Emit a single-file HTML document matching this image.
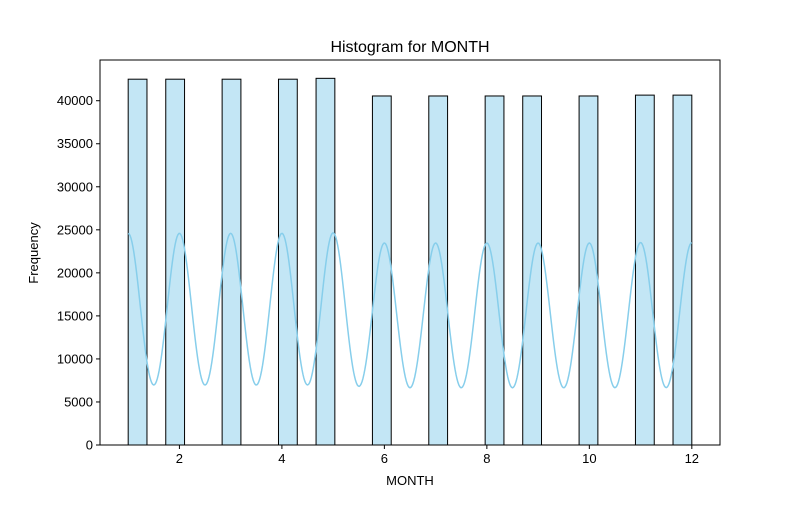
<!DOCTYPE html>
<html><head><meta charset="utf-8"><style>
body{margin:0;background:#fff;}
svg text{font-family:"Liberation Sans","DejaVu Sans",sans-serif;}
</style></head><body>
<svg id="chart" width="800" height="500" xmlns="http://www.w3.org/2000/svg"></svg>
<script>
const months = [1,2,3,4,5,6,7,8,9,10,11,12];
const counts = [42500,42500,42500,42500,42600,40550,40550,40550,40550,40550,40650,40650];
const xTicks = [2,4,6,8,10,12];
const yTicks = [0,5000,10000,15000,20000,25000,30000,35000,40000];
const nBins = 30;
const bandwidth = 0.253;

const svg = document.getElementById('chart');
const NS = 'http://www.w3.org/2000/svg';
const L=100,R=720,T=60,B=445;
const xmin=0.45,xmax=12.55,ymax=44730;
const xs = v => L + (v-xmin)/(xmax-xmin)*(R-L);
const ys = v => B - v/ymax*(B-T);
function mk(tag, attrs){const e=document.createElementNS(NS,tag);for(const k in attrs)e.setAttribute(k,attrs[k]);svg.appendChild(e);return e;}

const bw = (12-1)/nBins;
const binCounts = new Array(nBins).fill(0);
months.forEach((m,i)=>{let b=Math.floor((m-1)/bw+1e-9);if(b>=nBins)b=nBins-1;binCounts[b]+=counts[i];});
binCounts.forEach((c,b)=>{
  if(!c) return;
  const x0=xs(1+b*bw), x1=xs(1+(b+1)*bw);
  const r=mk('rect',{x:x0,y:ys(c),width:x1-x0,height:ys(0)-ys(c),fill:'#c3e6f5',stroke:'#000','stroke-width':1});
  
  
});

const N = counts.reduce((a,b)=>a+b,0);
let d='';
for(let i=0;i<=600;i++){
  const x=1+11*i/600;
  let s=0;
  months.forEach((m,j)=>{const z=(x-m)/bandwidth;s+=counts[j]*Math.exp(-0.5*z*z);});
  const dens=s/(N*bandwidth*Math.sqrt(2*Math.PI));
  const y=dens*N*bw;
  d+=(i?'L':'M')+xs(x).toFixed(2)+','+ys(y).toFixed(2);
}
const kde=mk('path',{d:d,fill:'none',stroke:'#87ceeb','stroke-width':1.5});



const frame=mk('rect',{x:L,y:T,width:R-L,height:B-T,fill:'none',stroke:'#000','stroke-width':1});



xTicks.forEach(t=>{
  mk('line',{x1:xs(t),x2:xs(t),y1:B,y2:B+4,stroke:'#000'});
  const tx=mk('text',{x:xs(t),y:B+18,'text-anchor':'middle','font-size':13});
  tx.textContent=t;
  
  
});
yTicks.forEach(t=>{
  mk('line',{x1:L-4,x2:L,y1:ys(t),y2:ys(t),stroke:'#000'});
  const tx=mk('text',{x:L-7,y:ys(t)+4.5,'text-anchor':'end','font-size':13});
  tx.textContent=t;
  
  
});
const title=mk('text',{x:410,y:52,'text-anchor':'middle','font-size':16});
title.textContent='Histogram for MONTH';


const xl=mk('text',{x:410,y:485,'text-anchor':'middle','font-size':13});
xl.textContent='MONTH';


const yl=mk('text',{x:38,y:253,'text-anchor':'middle','font-size':13,transform:'rotate(-90 38 253)'});
yl.textContent='Frequency';


</script>
</body></html>
